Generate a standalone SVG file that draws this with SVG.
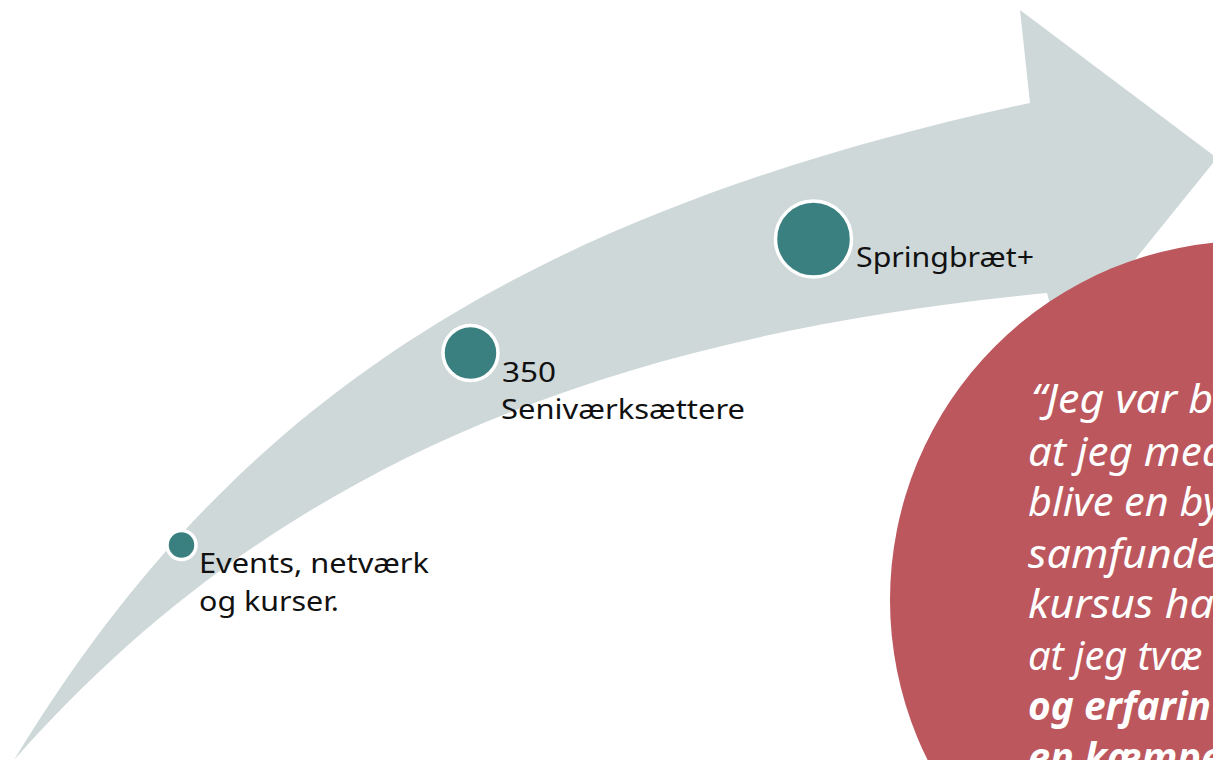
<svg xmlns="http://www.w3.org/2000/svg" width="1213" height="760" viewBox="0 0 1213 760">
<style>
.lbl{font-family:"Noto Sans","Liberation Sans",sans-serif;font-size:28px;fill:#111111}
.dot{fill:#3A8080;stroke:#FFFFFF;stroke-width:3.5}
.quote{font-family:"Noto Sans","Liberation Sans",sans-serif;font-size:40px;font-style:italic;fill:#FFFFFF}
.quote.b{font-weight:bold}
</style>
<rect x="0" y="0" width="1213" height="760" fill="#FFFFFF"/>
<g id="arrow">
<path d="M14,760 C219,423 493,219 1030,103 L1020,10 L1217,158 L1062,350 L1047,293 C550,340.5 246,498 14,760 Z" fill="#CED8D8"/>
</g>
<g id="quote-circle">
<circle cx="1249" cy="600" r="359" fill="#BC575E"/>
<text class="quote" x="1031" y="413" textLength="182" lengthAdjust="spacingAndGlyphs">“Jeg var b</text>
<text class="quote" x="1028" y="466" textLength="198" lengthAdjust="spacingAndGlyphs">at jeg med</text>
<text class="quote" x="1028" y="516" textLength="194" lengthAdjust="spacingAndGlyphs">blive en by</text>
<text class="quote" x="1028" y="568" textLength="190" lengthAdjust="spacingAndGlyphs">samfunde</text>
<text class="quote" x="1028" y="618" textLength="186" lengthAdjust="spacingAndGlyphs">kursus ha</text>
<text class="quote" x="1028" y="670" textLength="174" lengthAdjust="spacingAndGlyphs">at jeg tvæ</text>
<text class="quote b" x="1028" y="720" textLength="183" lengthAdjust="spacingAndGlyphs">og erfarin</text>
<text class="quote b" x="1028" y="771" textLength="195" lengthAdjust="spacingAndGlyphs">en kæmpe</text>
</g>
<g id="node-events">
<circle class="dot" cx="181.5" cy="545" r="14.5"/>
<text class="lbl" x="199" y="573" textLength="230" lengthAdjust="spacingAndGlyphs">Events, netværk</text>
<text class="lbl" x="199" y="611" textLength="140" lengthAdjust="spacingAndGlyphs">og kurser.</text>
</g>
<g id="node-350">
<circle class="dot" cx="470.5" cy="353" r="27.5"/>
<text class="lbl" x="502" y="382" textLength="54" lengthAdjust="spacingAndGlyphs">350</text>
<text class="lbl" x="501" y="419" textLength="244" lengthAdjust="spacingAndGlyphs">Seniværksættere</text>
</g>
<g id="node-springbraet">
<circle class="dot" cx="813.5" cy="239" r="38"/>
<text class="lbl" x="856" y="267" textLength="178" lengthAdjust="spacingAndGlyphs">Springbræt+</text>
</g>
<g id="connectors"></g>
</svg>
